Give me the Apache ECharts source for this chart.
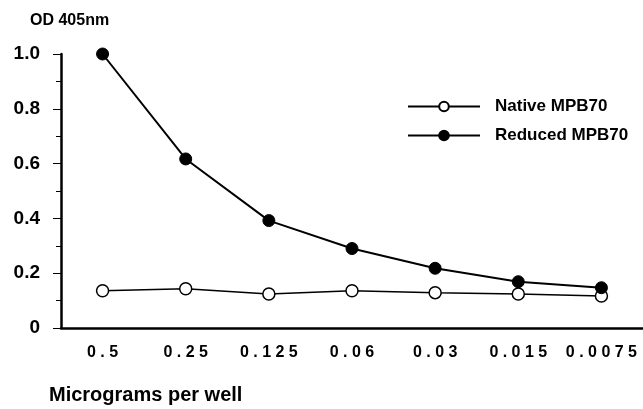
<!DOCTYPE html>
<html>
<head>
<meta charset="UTF-8">
<title>OD 405nm</title>
<script src="https://cdn.jsdelivr.net/npm/echarts@6/dist/echarts.min.js"></script>
<style>
	html, body { margin: 0; padding: 0; background: #fff; }
	#main { width: 643px; height: 409px; }
</style>
</head>
<body>
<div id="main"></div>
<script type="text/javascript">
	// data
	var doses = ['0.5', '0.25', '0.125', '0.06', '0.03', '0.015', '0.0075'];
	var nativeOD = [0.136, 0.143, 0.124, 0.136, 0.129, 0.124, 0.117];
	var reducedOD = [1.0, 0.617, 0.392, 0.29, 0.218, 0.169, 0.147];
	var yTicks = [0, 0.2, 0.4, 0.6, 0.8, 1.0];

	var font = 'Liberation Sans, Arial, sans-serif';
	var chart = echarts.init(document.getElementById('main'));

	var option = {
		animation: false,
		backgroundColor: '#fff',
		title: [{
			text: 'OD 405nm',
			left: 25, top: 8,
			textStyle: { fontFamily: font, fontWeight: 'bold', fontSize: 16, color: '#000' }
		}, {
			text: 'Micrograms per well',
			left: 44, top: 380,
			textStyle: { fontFamily: font, fontWeight: 'bold', fontSize: 20, color: '#000' }
		}],
		legend: {
			orient: 'vertical',
			left: 402, top: 93,
			itemWidth: 72, itemHeight: 12, itemGap: 12,
			textStyle: { fontFamily: font, fontWeight: 'bold', fontSize: 17, color: '#000', padding: [0, 0, 0, 10] },
			data: ['Native MPB70', 'Reduced MPB70']
		},
		grid: { left: 61, top: 54, right: 0, bottom: 81 },
		xAxis: {
			type: 'category',
			data: doses,
			boundaryGap: true,
			axisLine: { lineStyle: { color: '#000', width: 2.5 } },
			axisTick: { alignWithLabel: true, interval: 0, length: 6, lineStyle: { color: '#000' } },
			axisLabel: {
				interval: 0,
				hideOverlap: false,
				margin: 17,
				fontFamily: font, fontWeight: 'bold', fontSize: 16, color: '#000',
				formatter: function (v) { return v.split('').join(' '); }
			}
		},
		yAxis: {
			type: 'value',
			min: 0, max: 1, interval: 0.2,
			splitLine: { show: false },
			axisLine: { show: true, lineStyle: { color: '#000', width: 2.5 } },
			axisTick: { show: true, length: 8, lineStyle: { color: '#000' } },
			minorTick: { show: true, splitNumber: 2, length: 5, lineStyle: { color: '#000' } },
			axisLabel: {
				margin: 21,
				fontFamily: font, fontWeight: 'bold', fontSize: 19, color: '#000',
				formatter: function (v) {
					var t = yTicks.indexOf(Math.round(v * 10) / 10);
					if (t < 0) return '';
					return v === 0 ? '0' : v.toFixed(1);
				}
			}
		},
		series: [{
			name: 'Native MPB70',
			type: 'line',
			data: nativeOD,
			symbol: 'circle',
			symbolSize: 12,
			itemStyle: { color: '#fff', borderColor: '#000', borderWidth: 1.5 },
			lineStyle: { color: '#000', width: 1.5 },
			z: 2
		}, {
			name: 'Reduced MPB70',
			type: 'line',
			data: reducedOD,
			symbol: 'circle',
			symbolSize: 12,
			itemStyle: { color: '#000', borderColor: '#000', borderWidth: 1 },
			lineStyle: { color: '#000', width: 2 },
			z: 3
		}]
	};

	chart.setOption(option);
</script>
</body>
</html>
